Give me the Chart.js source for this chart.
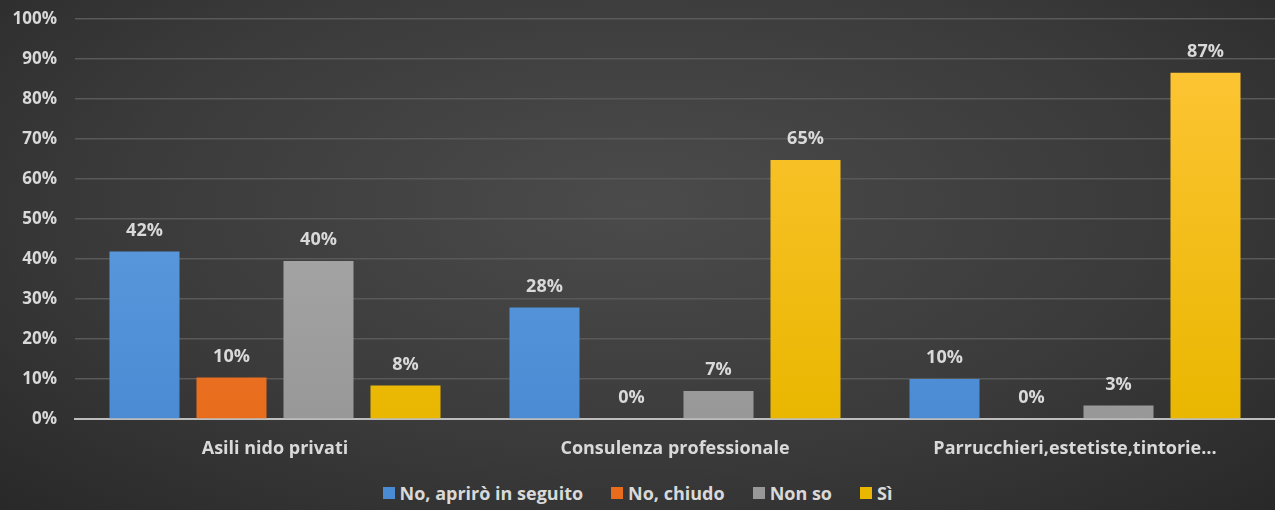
<!DOCTYPE html>
<html>
<head>
<meta charset="utf-8">
<script src="https://cdn.jsdelivr.net/npm/chart.js@4/dist/chart.umd.min.js"></script>
<style>
  html, body { margin: 0; padding: 0; }
  body {
    width: 1275px; height: 510px; overflow: hidden; position: relative;
    background: radial-gradient(ellipse 75% 90% at 50% 40%, #4b4b4b 0%, #3a3a3a 55%, #262626 100%);
    font-family: "Open Sans", sans-serif;
  }
  #wrap { position: absolute; left: 0; top: -9px; width: 1275px; height: 480px; }
  #legend {
    position: absolute; left: 0; top: 481px; width: 1275px;
    display: flex; justify-content: center; align-items: center;
    color: #d9d9d9; font-weight: bold; font-size: 18px; line-height: 24px;
  }
  #legend .item { display: flex; align-items: center; margin: 0 14px; }
  #legend .box { width: 12px; height: 12px; margin-right: 5px; }
</style>
</head>
<body>
<div id="wrap"><canvas id="chart"></canvas></div>
<div id="legend"></div>
<script>
// Data
const categories = ['Asili nido privati', 'Consulenza professionale', 'Parrucchieri,estetiste,tintorie…'];
const seriesNames = ['No, aprirò in seguito', 'No, chiudo', 'Non so', 'Sì'];
const openLater = [41.9, 27.9, 10.0];
const closing = [10.4, 0, 0];
const dontKnow = [39.5, 7.0, 3.4];
const yes = [8.4, 64.8, 86.6];
const yTicks = [0, 10, 20, 30, 40, 50, 60, 70, 80, 90, 100];

const FONT = '"Open Sans", sans-serif';
const TEXT = '#d9d9d9';

// top / bottom colours for each series gradient
const barColors = [
    ['#6aa6e2', '#4a8bd4'],
    ['#f68c45', '#e86c1c'],
    ['#b3b3b3', '#989898'],
    ['#ffc63a', '#e9b700']
];

function gradientFor(i) {
    return function(ctx) {
        const area = ctx.chart.chartArea;
        if (!area) return barColors[i][1];
        const g = ctx.chart.ctx.createLinearGradient(0, area.top, 0, area.bottom);
        g.addColorStop(0, barColors[i][0]);
        g.addColorStop(1, barColors[i][1]);
        return g;
    };
}

// draws the "42%" labels above each bar
const valueLabels = {
    id: 'valueLabels',
    afterDatasetsDraw(chart) {
        const c = chart.ctx;
        c.save();
        c.font = 'bold 18px ' + FONT;
        c.fillStyle = TEXT;
        c.textAlign = 'center';
        c.textBaseline = 'middle';
        chart.data.datasets.forEach(function(ds, di) {
            chart.getDatasetMeta(di).data.forEach(function(bar, i) {
                c.fillText(Math.round(ds.data[i]) + '%', bar.x, bar.y - 21);
            });
        });
        c.restore();
    }
};

const allSeries = [openLater, closing, dontKnow, yes];

const chart = new Chart(document.getElementById('chart'), {
    type: 'bar',
    data: {
        labels: categories,
        datasets: allSeries.map(function(vals, i) {
            return {
                label: seriesNames[i],
                data: vals,
                backgroundColor: gradientFor(i),
                borderWidth: 0,
                categoryPercentage: 0.87,
                barPercentage: 0.805
            };
        })
    },
    options: {
        responsive: true,
        maintainAspectRatio: false,
        animation: false,
        layout: { padding: 0 },
        plugins: {
            legend: { display: false },
            tooltip: { enabled: false }
        },
        scales: {
            x: {
                grid: { display: false },
                border: { display: true, color: '#bdbdbd', width: 2 },
                afterFit: function(axis) { axis.height = 52; },
                ticks: {
                    color: TEXT,
                    font: { family: FONT, size: 18, weight: 'bold' },
                    padding: 11
                }
            },
            y: {
                min: 0,
                max: 100,
                afterBuildTicks: function(axis) {
                    axis.ticks = yTicks.map(function(v) { return { value: v }; });
                },
                afterFit: function(axis) { axis.width = 75; },
                grid: { color: '#595959', lineWidth: 1.5, drawTicks: false },
                border: { display: false },
                ticks: {
                    color: TEXT,
                    font: { family: FONT, size: 17, weight: 'bold' },
                    padding: 18,
                    callback: function(v) { return v + '%'; }
                }
            }
        }
    },
    plugins: [valueLabels]
});

// legend built from the dataset list
const legendEl = document.getElementById('legend');
chart.data.datasets.forEach(function(ds, i) {
    const item = document.createElement('div');
    item.className = 'item';
    const box = document.createElement('span');
    box.className = 'box';
    box.style.background = barColors[i][1];
    item.appendChild(box);
    item.appendChild(document.createTextNode(ds.label));
    legendEl.appendChild(item);
});
</script>
</body>
</html>
